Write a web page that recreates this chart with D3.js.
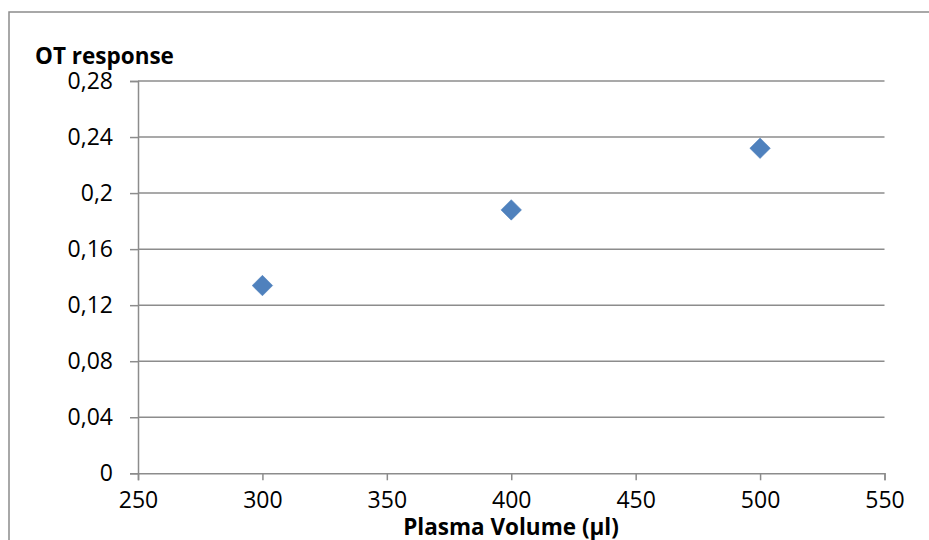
<!DOCTYPE html>
<html>
<head>
<meta charset="utf-8">
<script src="https://cdn.jsdelivr.net/npm/d3@7"></script>
<style>
    body { margin: 0; background: #fff; }
    svg { display: block; }
    .tick text { font-family: "Open Sans", sans-serif; font-size: 23px; fill: #000; }
    .axis-title { font-family: "Open Sans", sans-serif; font-size: 22.5px; font-weight: bold; fill: #000; }
</style>
</head>
<body>
<div id="chart"></div>
<script>
// plasma volume (µl) vs OT response
const volumes = [300, 400, 500];
const responses = [0.134, 0.188, 0.232];
const xTicks = [250, 300, 350, 400, 450, 500, 550];
const yTicks = [0, 0.04, 0.08, 0.12, 0.16, 0.2, 0.24, 0.28];

const width = 929, height = 540;
const margin = { top: 81, right: 44, bottom: 67, left: 138 };

const svg = d3.select("#chart")
    .append("svg")
    .attr("width", width)
    .attr("height", height);

// outer chart border (cut off at the right and bottom)
svg.append("rect")
    .attr("x", 9)
    .attr("y", 12)
    .attr("width", 940)
    .attr("height", 560)
    .style("fill", "none")
    .style("stroke", "#8c8c8c")
    .style("stroke-width", 1.5);

const x = d3.scaleLinear()
    .domain([250, 550])
    .range([margin.left, width - margin.right - 0.5]);

const y = d3.scaleLinear()
    .domain([0, 0.28])
    .range([height - margin.bottom + 0.3, margin.top]);

// gridlines
svg.append("g")
    .selectAll("line")
    .data(yTicks.slice(1))
    .join("line")
    .attr("x1", x(250))
    .attr("x2", x(550))
    .attr("y1", d => y(d))
    .attr("y2", d => y(d))
    .style("stroke", "#8c8c8c")
    .style("stroke-width", 1.5);

const fmt = d => d3.format(".2~f")(d).replace(".", ",");

const yAxis = d3.axisLeft(y)
    .tickValues(yTicks)
    .tickFormat(d => d === 0 ? "0" : fmt(d))
    .tickSize(8)
    .tickPadding(17);

const xAxis = d3.axisBottom(x)
    .tickValues(xTicks)
    .tickFormat(d3.format("d"))
    .tickSize(7)
    .tickPadding(11);

const gy = svg.append("g")
    .attr("class", "y-axis")
    .attr("transform", `translate(${x(250)}, 0)`)
    .call(yAxis);

const gx = svg.append("g")
    .attr("class", "x-axis")
    .attr("transform", `translate(0, ${y(0)})`)
    .call(xAxis);

[gx, gy].forEach(g => {
    g.select(".domain").style("stroke", "#8c8c8c").style("stroke-width", 1.5);
    g.selectAll(".tick line").style("stroke", "#8c8c8c").style("stroke-width", 1.5);
});

// points
const diamond = d3.symbol().type(d3.symbolSquare).size(210);
svg.append("g")
    .selectAll("path")
    .data(volumes)
    .join("path")
    .attr("d", diamond())
    .attr("transform", (d, i) => `translate(${x(d)}, ${y(responses[i])}) rotate(45)`)
    .style("fill", "#4f81bd")
    .style("stroke", "#4a7ebb")
    .style("stroke-width", 0.5);

// axis titles
svg.append("text")
    .attr("class", "axis-title")
    .attr("x", 35)
    .attr("y", 64)
    .text("OT response");

svg.append("text")
    .attr("class", "axis-title")
    .attr("x", 511)
    .attr("y", 535)
    .attr("text-anchor", "middle")
    .text("Plasma Volume (µl)");
</script>
</body>
</html>
